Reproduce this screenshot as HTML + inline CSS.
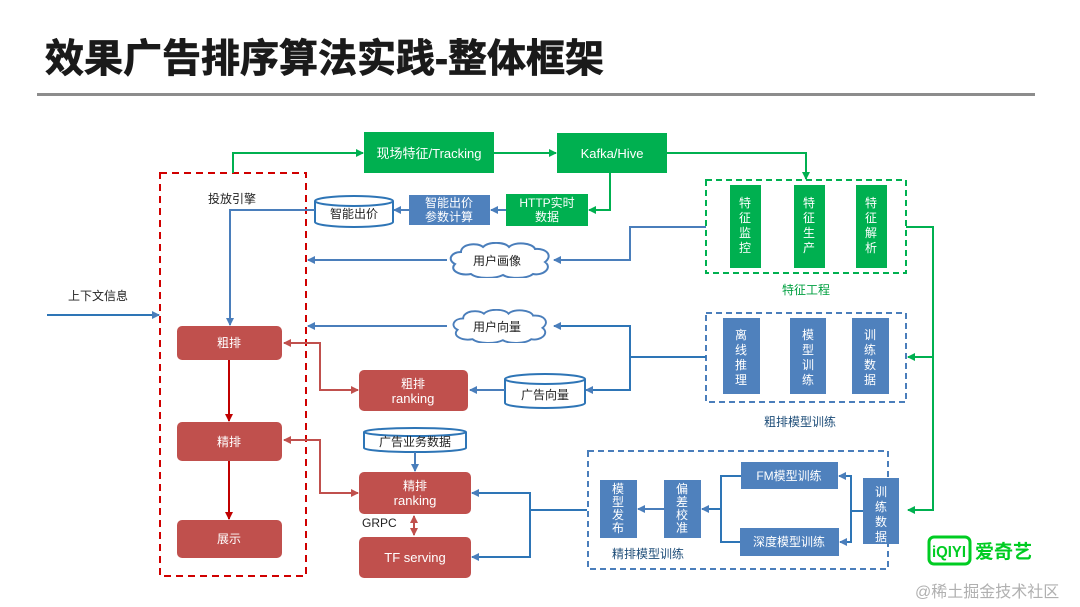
<!DOCTYPE html>
<html><head><meta charset="utf-8"><style>
body{margin:0;background:#fff;}
svg{display:block;font-family:"Liberation Sans","Noto Sans CJK SC",sans-serif;}
</style></head><body>
<svg width="1080" height="607" viewBox="0 0 1080 607" xmlns="http://www.w3.org/2000/svg">
<defs>
<marker id="ab" markerWidth="8" markerHeight="8" refX="7" refY="4" orient="auto" markerUnits="userSpaceOnUse"><path d="M0,0L8,4L0,8z" fill="#4a7ebb"/></marker>
<marker id="ag" markerWidth="8" markerHeight="8" refX="7" refY="4" orient="auto" markerUnits="userSpaceOnUse"><path d="M0,0L8,4L0,8z" fill="#00b050"/></marker>
<marker id="ar" markerWidth="8" markerHeight="8" refX="7" refY="4" orient="auto" markerUnits="userSpaceOnUse"><path d="M0,0L8,4L0,8z" fill="#c0504d"/></marker>
<marker id="ard" markerWidth="8" markerHeight="8" refX="7" refY="4" orient="auto" markerUnits="userSpaceOnUse"><path d="M0,0L8,4L0,8z" fill="#c00000"/></marker>
<marker id="arS" markerWidth="8" markerHeight="8" refX="1" refY="4" orient="auto" markerUnits="userSpaceOnUse"><path d="M8,0L0,4L8,8z" fill="#c0504d"/></marker>
<symbol id="cloud" viewBox="0 0 106 36"><path d="M14,10 C14,2 30,0 36,5 C42,-1 58,0 62,5 C68,-1 86,1 88,7 C100,6 106,14 98,20 C106,26 96,34 86,32 C80,37 62,37 56,33 C48,37 30,37 24,32 C12,34 2,28 8,22 C0,18 4,10 14,10z" fill="#fff" stroke="#4a7ebb" stroke-width="2"/></symbol>
</defs>
<text x="45" y="72" font-size="39" font-weight="bold" fill="#1a1a1a" stroke="#1a1a1a" stroke-width="0.8">效果广告排序算法实践-整体框架</text>
<rect x="37" y="93" width="998" height="3" fill="#8c8c8c"/>

<rect x="160" y="173" width="146" height="403" fill="none" stroke="#d00000" stroke-width="2" stroke-dasharray="7,5"/>
<text x="208" y="203" font-size="12" fill="#222">投放引擎</text>
<text x="68" y="300" font-size="12" fill="#222">上下文信息</text>
<line x1="47" y1="315" x2="159" y2="315" stroke="#2e75b6" stroke-width="2" marker-end="url(#ab)"/>

<polyline points="233,173 233,153 363,153" fill="none" stroke="#00b050" stroke-width="2" marker-end="url(#ag)"/>
<line x1="494" y1="153" x2="556" y2="153" stroke="#00b050" stroke-width="2" marker-end="url(#ag)"/>
<polyline points="667,153 806,153 806,179" fill="none" stroke="#00b050" stroke-width="2" marker-end="url(#ag)"/>
<polyline points="610,173 610,210 589,210" fill="none" stroke="#00b050" stroke-width="2" marker-end="url(#ag)"/>
<rect x="364" y="132" width="130" height="41" fill="#00b050"/>
<text x="429" y="158" font-size="13" fill="#fff" text-anchor="middle">现场特征/Tracking</text>
<rect x="557" y="133" width="110" height="40" fill="#00b050"/>
<text x="612" y="158" font-size="13" fill="#fff" text-anchor="middle">Kafka/Hive</text>
<rect x="506" y="194" width="82" height="32" fill="#00b050"/>
<text x="547" y="207" font-size="12" fill="#fff" text-anchor="middle">HTTP实时</text>
<text x="547" y="221" font-size="12" fill="#fff" text-anchor="middle">数据</text>
<line x1="506" y1="210" x2="491" y2="210" stroke="#4a7ebb" stroke-width="2" marker-end="url(#ab)"/>
<rect x="409" y="195" width="81" height="30" fill="#4f81bd"/>
<text x="449" y="207" font-size="12" fill="#fff" text-anchor="middle">智能出价</text>
<text x="449" y="221" font-size="12" fill="#fff" text-anchor="middle">参数计算</text>
<line x1="409" y1="210" x2="394" y2="210" stroke="#4a7ebb" stroke-width="2" marker-end="url(#ab)"/>
<path d="M315,201 L315,222 A39,5 0 0 0 393,222 L393,201" fill="#fff" stroke="#2e75b6" stroke-width="2"/>
<ellipse cx="354" cy="201" rx="39" ry="5" fill="#fff" stroke="#2e75b6" stroke-width="2"/>
<text x="354" y="218" font-size="12" fill="#222" text-anchor="middle">智能出价</text>
<polyline points="315,210 230,210 230,325" fill="none" stroke="#4a7ebb" stroke-width="2" marker-end="url(#ab)"/>

<rect x="706" y="180" width="200" height="93" fill="none" stroke="#00b050" stroke-width="2" stroke-dasharray="6,4"/>
<g fill="#00b050"><rect x="730" y="185" width="31" height="83"/><rect x="794" y="185" width="31" height="83"/><rect x="856" y="185" width="31" height="83"/></g>
<g font-size="12" fill="#fff" text-anchor="middle">
<text x="745" y="207">特</text><text x="745" y="222">征</text><text x="745" y="237">监</text><text x="745" y="252">控</text>
<text x="809" y="207">特</text><text x="809" y="222">征</text><text x="809" y="237">生</text><text x="809" y="252">产</text>
<text x="871" y="207">特</text><text x="871" y="222">征</text><text x="871" y="237">解</text><text x="871" y="252">析</text>
</g>
<text x="806" y="294" font-size="12" fill="#00a040" text-anchor="middle">特征工程</text>
<polyline points="706,227 630,227 630,260 554,260" fill="none" stroke="#4a7ebb" stroke-width="2" marker-end="url(#ab)"/>
<line x1="447" y1="260" x2="308" y2="260" stroke="#4a7ebb" stroke-width="2" marker-end="url(#ab)"/>
<use href="#cloud" x="447" y="242" width="106" height="36"/>
<text x="497" y="265" font-size="12" fill="#222" text-anchor="middle">用户画像</text>

<polyline points="906,227 933,227 933,510 908,510" fill="none" stroke="#00b050" stroke-width="2" marker-end="url(#ag)"/>
<line x1="933" y1="357" x2="908" y2="357" stroke="#00b050" stroke-width="2" marker-end="url(#ag)"/>

<rect x="706" y="313" width="200" height="89" fill="none" stroke="#4a7ebb" stroke-width="2" stroke-dasharray="6,4"/>
<g fill="#4f81bd"><rect x="723" y="318" width="37" height="76"/><rect x="790" y="318" width="36" height="76"/><rect x="852" y="318" width="37" height="76"/></g>
<g font-size="12" fill="#fff" text-anchor="middle">
<text x="741" y="339">离</text><text x="741" y="354">线</text><text x="741" y="369">推</text><text x="741" y="384">理</text>
<text x="808" y="339">模</text><text x="808" y="354">型</text><text x="808" y="369">训</text><text x="808" y="384">练</text>
<text x="870" y="339">训</text><text x="870" y="354">练</text><text x="870" y="369">数</text><text x="870" y="384">据</text>
</g>
<text x="800" y="426" font-size="12" fill="#1f4e79" text-anchor="middle">粗排模型训练</text>
<polyline points="706,357 630,357" fill="none" stroke="#2e75b6" stroke-width="2"/>
<polyline points="630,390 630,326 554,326" fill="none" stroke="#2e75b6" stroke-width="2" marker-end="url(#ab)"/>
<polyline points="630,357 630,390 586,390" fill="none" stroke="#2e75b6" stroke-width="2" marker-end="url(#ab)"/>
<line x1="447" y1="326" x2="308" y2="326" stroke="#4a7ebb" stroke-width="2" marker-end="url(#ab)"/>
<use href="#cloud" x="447" y="309" width="106" height="34"/>
<text x="497" y="331" font-size="12" fill="#222" text-anchor="middle">用户向量</text>

<path d="M505,379 L505,403 A40,5 0 0 0 585,403 L585,379" fill="#fff" stroke="#2e75b6" stroke-width="2"/>
<ellipse cx="545" cy="379" rx="40" ry="5" fill="#fff" stroke="#2e75b6" stroke-width="2"/>
<text x="545" y="399" font-size="12" fill="#222" text-anchor="middle">广告向量</text>
<line x1="505" y1="390" x2="470" y2="390" stroke="#4a7ebb" stroke-width="2" marker-end="url(#ab)"/>

<g fill="#c0504d">
<rect x="177" y="326" width="105" height="34" rx="5"/>
<rect x="177" y="422" width="105" height="39" rx="5"/>
<rect x="177" y="520" width="105" height="38" rx="5"/>
<rect x="359" y="370" width="109" height="41" rx="5"/>
<rect x="359" y="472" width="112" height="42" rx="5"/>
<rect x="359" y="537" width="112" height="41" rx="5"/>
</g>
<g font-size="12" fill="#fff" text-anchor="middle">
<text x="229" y="347">粗排</text>
<text x="229" y="446">精排</text>
<text x="229" y="543">展示</text>
<text x="413" y="388">粗排</text><text x="413" y="403" font-size="13">ranking</text>
<text x="415" y="490">精排</text><text x="415" y="505" font-size="13">ranking</text>
<text x="415" y="562" font-size="13">TF serving</text>
</g>
<line x1="229" y1="360" x2="229" y2="421" stroke="#c00000" stroke-width="2" marker-end="url(#ard)"/>
<line x1="229" y1="461" x2="229" y2="519" stroke="#c00000" stroke-width="2" marker-end="url(#ard)"/>
<polyline points="284,343 320,343 320,390 358,390" fill="none" stroke="#c0504d" stroke-width="2" marker-start="url(#arS)" marker-end="url(#ar)"/>
<polyline points="284,440 320,440 320,493 358,493" fill="none" stroke="#c0504d" stroke-width="2" marker-start="url(#arS)" marker-end="url(#ar)"/>
<line x1="414" y1="516" x2="414" y2="535" stroke="#c0504d" stroke-width="2" marker-start="url(#arS)" marker-end="url(#ar)"/>
<text x="362" y="527" font-size="12" fill="#222">GRPC</text>

<path d="M364,432 L364,448 A51,4 0 0 0 466,448 L466,432" fill="#fff" stroke="#2e75b6" stroke-width="2"/>
<ellipse cx="415" cy="432" rx="51" ry="4" fill="#fff" stroke="#2e75b6" stroke-width="2"/>
<text x="415" y="446" font-size="12" fill="#222" text-anchor="middle">广告业务数据</text>
<line x1="415" y1="452" x2="415" y2="471" stroke="#4a7ebb" stroke-width="2" marker-end="url(#ab)"/>

<rect x="588" y="451" width="300" height="118" fill="none" stroke="#4a7ebb" stroke-width="2" stroke-dasharray="6,4"/>
<polyline points="587,510 530,510 530,493 472,493" fill="none" stroke="#2e75b6" stroke-width="2" marker-end="url(#ab)"/>
<polyline points="530,510 530,557 472,557" fill="none" stroke="#2e75b6" stroke-width="2" marker-end="url(#ab)"/>
<g fill="#4f81bd">
<rect x="600" y="480" width="37" height="58"/>
<rect x="664" y="480" width="37" height="58"/>
<rect x="741" y="462" width="97" height="27"/>
<rect x="740" y="528" width="99" height="28"/>
<rect x="863" y="478" width="36" height="66"/>
</g>
<g font-size="12" fill="#fff" text-anchor="middle">
<text x="618" y="493">模</text><text x="618" y="506">型</text><text x="618" y="519">发</text><text x="618" y="532">布</text>
<text x="682" y="493">偏</text><text x="682" y="506">差</text><text x="682" y="519">校</text><text x="682" y="532">准</text>
<text x="789" y="480">FM模型训练</text>
<text x="789" y="546">深度模型训练</text>
<text x="881" y="496">训</text><text x="881" y="511">练</text><text x="881" y="526">数</text><text x="881" y="541">据</text>
</g>
<line x1="664" y1="509" x2="638" y2="509" stroke="#4a7ebb" stroke-width="2" marker-end="url(#ab)"/>
<polyline points="741,476 721,476 721,509 702,509" fill="none" stroke="#2e75b6" stroke-width="2" marker-end="url(#ab)"/>
<polyline points="740,542 721,542 721,509" fill="none" stroke="#2e75b6" stroke-width="2"/>
<polyline points="863,511 851,511 851,476 839,476" fill="none" stroke="#2e75b6" stroke-width="2" marker-end="url(#ab)"/>
<polyline points="851,511 851,542 840,542" fill="none" stroke="#2e75b6" stroke-width="2" marker-end="url(#ab)"/>
<text x="648" y="558" font-size="12" fill="#1f4e79" text-anchor="middle">精排模型训练</text>

<rect x="929" y="537" width="41" height="27" rx="5" fill="none" stroke="#00cc22" stroke-width="3"/>
<text x="949" y="557" font-size="16" font-weight="bold" fill="#00cc22" text-anchor="middle" textLength="34" lengthAdjust="spacingAndGlyphs">iQIYI</text>
<text x="975" y="558" font-size="19" font-weight="bold" fill="#00cc22">爱奇艺</text>
<text x="915" y="597" font-size="16" fill="#b0b0b0">@稀土掘金技术社区</text>
</svg>
</body></html>
